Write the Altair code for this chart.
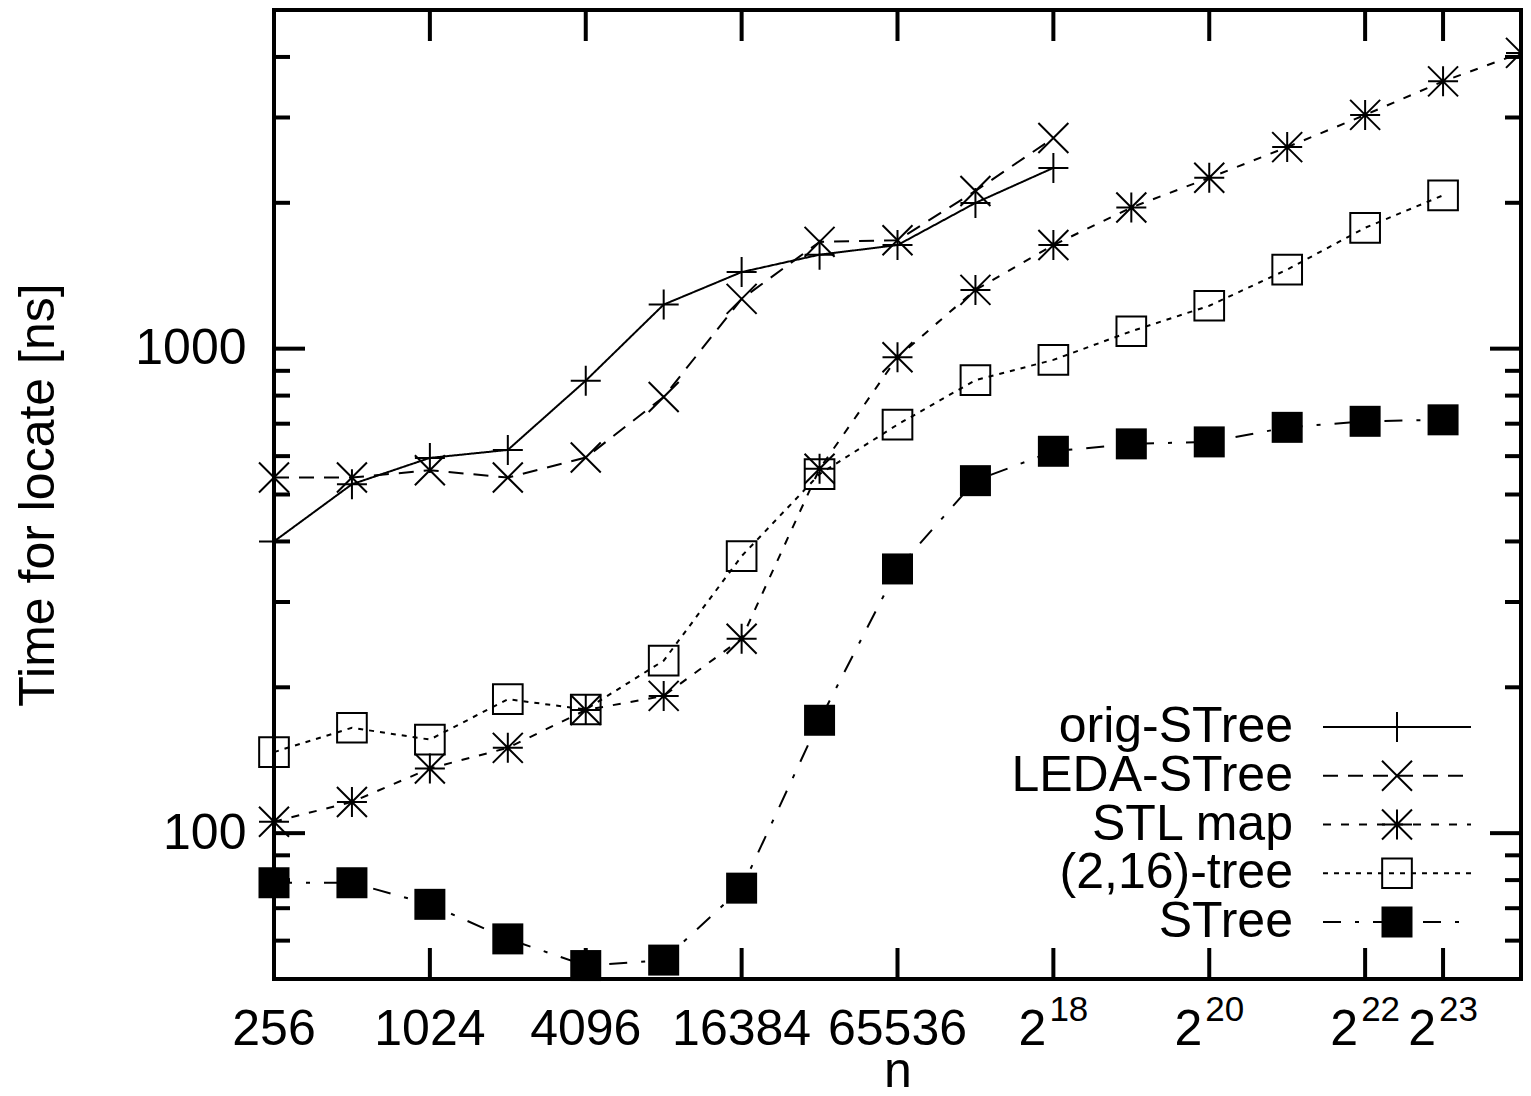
import altair as alt
import pandas as pd

FONT = "Liberation Sans"

# ---- data ----
series_names = ["orig-STree", "LEDA-STree", "STL map", "(2,16)-tree", "STree"]
first_exp = 8  # first n = 2^8 = 256
orig_stree = [400, 525, 595, 618, 859, 1233, 1439, 1563, 1636, 1999, 2361]
leda_stree = [542, 542, 561, 542, 596, 795, 1267, 1661, 1674, 2116, 2721]
stl_map = [105.6, 116, 136, 150, 179.5, 192, 252, 565, 960, 1322, 1636, 1956,
           2252, 2606, 3037, 3562, 4078]
tree_2_16 = [147, 165, 156, 189, 180, 227, 373, 551, 697, 861, 948, 1086, 1226,
             1456, 1776, 2072]
stree = [79, 79, 71.3, 60.5, 53.3, 54.7, 77, 171, 351, 534, 614, 636, 642, 688,
         708, 713]

x_tick_values = [1024, 4096, 16384, 65536, 2**18, 2**20, 2**22, 2**23]
x_plain_labels = [256, 1024, 4096, 16384, 65536]
x_power_exps = [18, 20, 22, 23]
y_major = [100, 1000]
y_minor = [60, 70, 80, 90, 200, 300, 400, 500, 600, 700, 800, 900, 2000, 3000, 4000]

# ---- styles ----
plus = "M-1,0L1,0M0,-1L0,1"
cross = "M-1,-1L1,1M-1,1L1,-1"
star = plus + cross
shapes = [plus, cross, star, "square", "square"]
sizes = [900, 900, 900, 880, 961]
filled = [False, False, False, False, True]
dashes = [[1, 0], [15, 10], [8, 10], [5, 6], [18, 14, 4, 14]]

W, H = 1247, 969

xscale = alt.Scale(type="log", base=2, domain=[256, 2**24], nice=False)
yscale = alt.Scale(type="log", domain=[50, 5000], nice=False)

x_axis = alt.Axis(title="n", labels=False, ticks=False, domain=False, grid=False,
                  titleFont=FONT, titleFontSize=50, titleFontWeight="normal",
                  titleColor="black", titleY=107, titleBaseline="alphabetic")
y_axis = alt.Axis(title="Time for locate [ns]", values=y_major, format="d",
                  ticks=False, tickSize=0, domain=False, grid=False,
                  labelFont=FONT, labelFontSize=50, labelColor="black",
                  labelPadding=28, titleFont=FONT, titleFontSize=50,
                  titleFontWeight="normal", titleColor="black", titleX=-221,
                  titleBaseline="alphabetic")


def X():
    return alt.X("n:Q", scale=xscale, axis=x_axis)


def Y():
    return alt.Y("t:Q", scale=yscale, axis=y_axis)


# ---- data frame ----
rows = []
for name, vals in zip(series_names, [orig_stree, leda_stree, stl_map, tree_2_16, stree]):
    for i, v in enumerate(vals):
        rows.append({"series": name, "n": 2 ** (first_exp + i), "t": v})
df = pd.DataFrame(rows)

# ---- tick marks (inward, gnuplot style) ----
xt = pd.DataFrame({"n": x_tick_values})
ymaj = pd.DataFrame({"t": y_major})
ymin = pd.DataFrame({"t": y_minor})
tick_layers = [
    alt.Chart(xt).mark_rule(color="black", strokeWidth=4).encode(
        x=X(), y=alt.value(H), y2=alt.value(H - 31)),
    alt.Chart(xt).mark_rule(color="black", strokeWidth=4).encode(
        x=X(), y=alt.value(0), y2=alt.value(31)),
    alt.Chart(ymaj).mark_rule(color="black", strokeWidth=4).encode(
        y=Y(), x=alt.value(0), x2=alt.value(31)),
    alt.Chart(ymaj).mark_rule(color="black", strokeWidth=4).encode(
        y=Y(), x=alt.value(W), x2=alt.value(W - 31)),
    alt.Chart(ymin).mark_rule(color="black", strokeWidth=4).encode(
        y=Y(), x=alt.value(0), x2=alt.value(16)),
    alt.Chart(ymin).mark_rule(color="black", strokeWidth=4).encode(
        y=Y(), x=alt.value(W), x2=alt.value(W - 16)),
]

# ---- x tick labels ----
plain_df = pd.DataFrame({"n": x_plain_labels, "label": [str(v) for v in x_plain_labels]})
power_df = pd.DataFrame({"n": [2 ** e for e in x_power_exps],
                         "base": ["2"] * len(x_power_exps),
                         "exp": [str(e) for e in x_power_exps]})
label_layers = [
    alt.Chart(plain_df).mark_text(font=FONT, fontSize=50, color="black",
                                  align="center", baseline="alphabetic").encode(
        x=X(), y=alt.value(H + 66), text="label:N"),
    alt.Chart(power_df).mark_text(font=FONT, fontSize=50, color="black",
                                  align="right", baseline="alphabetic", dx=-7).encode(
        x=X(), y=alt.value(H + 66), text="base:N"),
    alt.Chart(power_df).mark_text(font=FONT, fontSize=35, color="black",
                                  align="left", baseline="alphabetic", dx=-4).encode(
        x=X(), y=alt.value(H + 42), text="exp:N"),
]

# ---- series ----
series_layers = []
for name, shp, sz, fl, d in zip(series_names, shapes, sizes, filled, dashes):
    base = alt.Chart(df).transform_filter(alt.datum.series == name)
    line = base.mark_line(color="black", strokeWidth=2, strokeDash=d).encode(x=X(), y=Y())
    if fl:
        pts = base.mark_point(shape=shp, size=sz, filled=True, color="black",
                              opacity=1).encode(x=X(), y=Y())
    else:
        pts = base.mark_point(shape=shp, size=sz, filled=False, color="black",
                              strokeWidth=2, opacity=1).encode(x=X(), y=Y())
    series_layers += [line, pts]

main = alt.layer(*tick_layers, *label_layers, *series_layers)

# ---- legend (gnuplot style, inside plot) ----
legend_df = pd.DataFrame({"series": series_names})
ly = alt.Y("series:N", scale=alt.Scale(type="point", domain=series_names,
                                       range=[717, 912], padding=0), axis=None)
legend_layers = [
    alt.Chart(legend_df).mark_text(font=FONT, fontSize=50, color="black",
                                   align="right", baseline="middle").encode(
        x=alt.value(1019), y=ly, text="series:N"),
    alt.Chart(legend_df).mark_rule(color="black", strokeWidth=2).encode(
        x=alt.value(1049), x2=alt.value(1197), y=ly,
        strokeDash=alt.StrokeDash("series:N", scale=alt.Scale(domain=series_names,
                                                               range=dashes),
                                  legend=None)),
]
for name, shp, sz, fl in zip(series_names, shapes, sizes, filled):
    b = alt.Chart(legend_df).transform_filter(alt.datum.series == name)
    if fl:
        legend_layers.append(b.mark_point(shape=shp, size=sz, filled=True,
                                          color="black", opacity=1).encode(
            x=alt.value(1123), y=ly))
    else:
        legend_layers.append(b.mark_point(shape=shp, size=sz, filled=False,
                                          color="black", strokeWidth=2,
                                          opacity=1).encode(
            x=alt.value(1123), y=ly))
legend = alt.layer(*legend_layers)

chart = alt.layer(main, legend).resolve_scale(y="independent").properties(
    width=W, height=H,
    autosize=alt.AutoSizeParams(type="none"),
    padding={"left": 266, "top": 2, "right": 2, "bottom": 109},
    background="white",
).configure_view(stroke="black", strokeWidth=4)

chart.save("out.html", embed_options={"renderer": "svg", "actions": False})
